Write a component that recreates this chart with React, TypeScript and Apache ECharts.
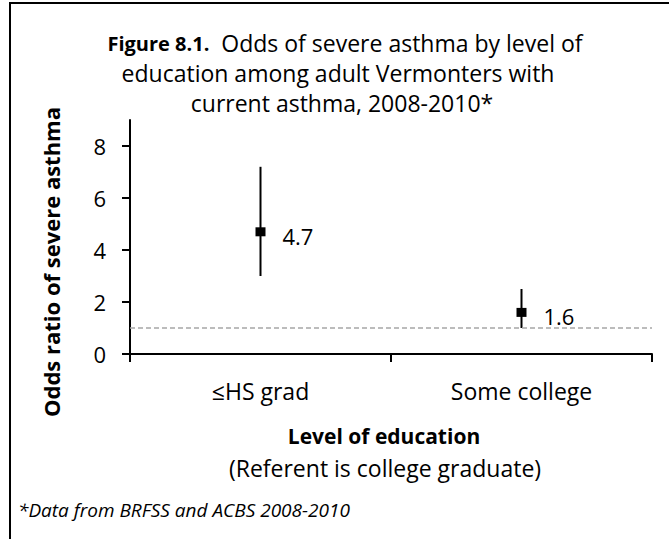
import React, { useEffect, useRef } from "react";
import * as echarts from "echarts";

const categories = ["≤HS grad", "Some college"];
const oddsRatios = [4.7, 1.6];
const ciLower = [3.0, 1.0];
const ciUpper = [7.2, 2.5];
const yTicks = [0, 2, 4, 6, 8];
const yMax = 9;
const referenceValue = 1;

const titleLines = [
  "Odds of severe asthma by level of",
  "education among adult Vermonters with",
  "current asthma, 2008-2010*",
];
const figureLabel = "Figure 8.1.";
const yAxisTitle = "Odds ratio of severe asthma";
const xAxisTitle = "Level of education";
const xAxisSubtitle = "(Referent is college graduate)";
const footnote = "*Data from BRFSS and ACBS 2008-2010";

const FONT = "'Open Sans', sans-serif";

export default function App() {
  const ref = useRef<HTMLDivElement>(null);
  useEffect(() => {
    if (!ref.current) return;
    const chart = echarts.init(ref.current, undefined, { renderer: "svg" });
    const option: any = {
      animation: false,
      backgroundColor: "#fff",
      textStyle: { fontFamily: FONT, color: "#000" },
      grid: { left: 130, right: 17, top: 120, bottom: 185, containLabel: false },
      xAxis: {
        type: "category",
        data: categories,
        boundaryGap: true,
        axisLine: { show: true, lineStyle: { color: "#000", width: 2 } },
        axisTick: { show: true, length: 8, alignWithLabel: false, lineStyle: { color: "#000", width: 2 } },
        axisLabel: { fontSize: 23, color: "#000", margin: 25, fontFamily: FONT },
        splitLine: { show: false },
      },
      yAxis: {
        type: "value",
        min: 0,
        max: yMax,
        interval: 2,
        axisLine: { show: true, lineStyle: { color: "#000", width: 2 } },
        axisTick: { show: true, length: 8, customValues: yTicks, lineStyle: { color: "#000", width: 2 } },
        axisLabel: { fontSize: 22, color: "#000", margin: 24, customValues: yTicks, fontFamily: FONT },
        splitLine: { show: false },
      },
      series: [
        {
          type: "custom",
          z: 3,
          data: categories.map((_, i) => [i, ciLower[i], ciUpper[i]]),
          encode: { x: 0, y: [1, 2] },
          renderItem: (params: any, api: any) => {
            const x = api.value(0);
            const lo = api.coord([x, api.value(1)]);
            const hi = api.coord([x, api.value(2)]);
            return {
              type: "line",
              shape: { x1: lo[0], y1: lo[1], x2: hi[0], y2: hi[1] },
              style: { stroke: "#000", lineWidth: 2 },
            };
          },
        },
        {
          type: "scatter",
          z: 4,
          data: oddsRatios,
          symbol: "rect",
          symbolSize: [10, 9],
          itemStyle: { color: "#000", opacity: 1 },
          label: {
            show: true,
            position: "right",
            distance: 17,
            offset: [0, 4],
            fontSize: 22,
            color: "#000",
            opacity: 1,
            fontFamily: FONT,
            formatter: (p: any) => Number(p.value).toFixed(1),
          },
          markLine: {
            silent: true,
            symbol: ["none", "none"],
            label: { show: false },
            lineStyle: { type: [5, 3], color: "#a6a6a6", width: 1.5, opacity: 1 },
            data: [{ yAxis: referenceValue }],
          },
        },
      ],
      graphic: [
        {
          type: "rect",
          shape: { x: 10, y: 3, width: 800, height: 700 },
          style: { fill: "none", stroke: "#000", lineWidth: 2 },
          silent: true,
        },
        {
          type: "text",
          x: 345,
          y: 43,
          style: {
            text: `{b|${figureLabel}}  ${titleLines[0]}`,
            align: "center",
            verticalAlign: "middle",
            fontSize: 23,
            fontFamily: FONT,
            fill: "#000",
            rich: { b: { fontWeight: "bold", fontSize: 20, fontFamily: FONT } },
          },
        },
        {
          type: "text",
          x: 338,
          y: 73,
          style: {
            text: titleLines[1],
            align: "center",
            verticalAlign: "middle",
            fontSize: 23,
            fontFamily: FONT,
            fill: "#000",
          },
        },
        {
          type: "text",
          x: 342,
          y: 103,
          style: {
            text: titleLines[2],
            align: "center",
            verticalAlign: "middle",
            fontSize: 23,
            fontFamily: FONT,
            fill: "#000",
          },
        },
        {
          type: "text",
          x: 51,
          y: 262,
          rotation: Math.PI / 2,
          style: {
            text: yAxisTitle,
            align: "center",
            verticalAlign: "middle",
            fontSize: 22,
            fontWeight: "bold",
            fontFamily: FONT,
            fill: "#000",
          },
        },
        {
          type: "text",
          x: 384,
          y: 436,
          style: {
            text: xAxisTitle,
            align: "center",
            verticalAlign: "middle",
            fontSize: 21,
            fontWeight: "bold",
            fontFamily: FONT,
            fill: "#000",
          },
        },
        {
          type: "text",
          x: 385,
          y: 468,
          style: {
            text: xAxisSubtitle,
            align: "center",
            verticalAlign: "middle",
            fontSize: 23,
            fontFamily: FONT,
            fill: "#000",
          },
        },
        {
          type: "text",
          x: 18,
          y: 510,
          style: {
            text: footnote,
            align: "left",
            verticalAlign: "middle",
            fontSize: 19,
            fontStyle: "italic",
            fontFamily: FONT,
            fill: "#000",
          },
        },
      ],
    };
    chart.setOption(option);
    return () => chart.dispose();
  }, []);
  return (
    <div
      ref={ref}
      style={{ position: "fixed", left: 0, top: 0, width: 669, height: 539 }}
    />
  );
}
